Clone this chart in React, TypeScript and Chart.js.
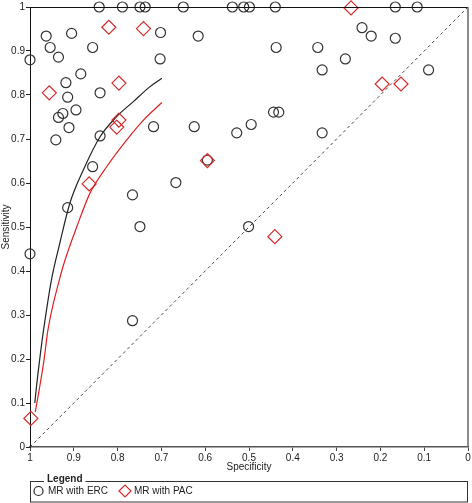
import React, { useEffect, useRef } from "react";
import { Chart, registerables } from "chart.js";

Chart.register(...registerables);

// MR with ERC: specificity / sensitivity
const ercSpec = [
  0.842, 0.789, 0.749, 0.737, 0.65, 0.538, 0.512, 0.499, 0.44, 0.166, 0.116,
  0.963, 0.954, 0.935, 1.0, 0.905, 0.857, 0.702, 0.703, 0.616, 0.884, 0.918,
  0.914, 0.84, 0.925, 0.935, 0.895, 0.911, 0.941, 0.84, 0.718, 0.625, 0.528,
  0.857, 0.667, 0.595, 0.766, 0.914, 0.749, 0.242, 0.221, 0.166, 0.438, 0.343,
  0.28, 0.333, 0.09, 0.444, 0.432, 0.495, 0.333, 0.501, 1.0, 0.766,
];
const ercSens = [
  1, 1, 1, 1, 1, 1, 1, 1, 1, 1, 1,
  0.934, 0.908, 0.886, 0.88, 0.94, 0.908, 0.942, 0.882, 0.934, 0.848, 0.828,
  0.795, 0.805, 0.758, 0.749, 0.766, 0.726, 0.698, 0.707, 0.728, 0.728, 0.714,
  0.637, 0.601, 0.652, 0.573, 0.544, 0.501, 0.953, 0.934, 0.929, 0.908, 0.908,
  0.882, 0.857, 0.857, 0.761, 0.761, 0.733, 0.714, 0.501, 0.439, 0.287,
];

// MR with PAC
const pacSpec = [0.82, 0.741, 0.956, 0.797, 0.797, 0.802, 0.865, 0.595, 0.267, 0.196, 0.153, 0.441, 0.998];
const pacSens = [0.954, 0.951, 0.805, 0.827, 0.743, 0.727, 0.598, 0.651, 0.998, 0.825, 0.825, 0.478, 0.065];

// SROC curves
const ercCurveSpec = [0.989, 0.986, 0.978, 0.969, 0.951, 0.932, 0.909, 0.878, 0.84, 0.802, 0.764, 0.726, 0.699];
const ercCurveSens = [0.1, 0.13, 0.198, 0.266, 0.38, 0.463, 0.554, 0.63, 0.705, 0.751, 0.785, 0.819, 0.838];
const pacCurveSpec = [0.988, 0.979, 0.968, 0.959, 0.933, 0.92, 0.893, 0.863, 0.825, 0.779, 0.741, 0.699];
const pacCurveSens = [0.08, 0.13, 0.198, 0.266, 0.38, 0.425, 0.501, 0.577, 0.637, 0.698, 0.743, 0.783];

// chance line
const diagSpec = [1, 0];
const diagSens = [0, 1];

const seriesLabels = ["MR with ERC", "MR with PAC"];
const xTitle = "Specificity";
const yTitle = "Sensitivity";
const legendTitle = "Legend";

const pts = (xs: number[], ys: number[]) => xs.map((x, i) => ({ x, y: ys[i] }));

const FONT = "'Liberation Sans', Arial, sans-serif";
const RED = "#d42a2a";
const DARK = "#333333";

export default function App() {
  const ref = useRef<HTMLCanvasElement | null>(null);

  useEffect(() => {
    document.body.style.margin = "0";
    const canvas = ref.current;
    if (!canvas) return;

    const framePlugin = {
      id: "frameAndLegend",
      afterDraw(chart: any) {
        const { ctx, chartArea } = chart;
        const { left, right, top, bottom } = chartArea;
        ctx.save();
        // top border
        ctx.strokeStyle = "#111";
        ctx.lineWidth = 1;
        ctx.beginPath();
        ctx.moveTo(left, top + 0.5);
        ctx.lineTo(right, top + 0.5);
        ctx.stroke();
        // right border
        ctx.strokeStyle = "#666";
        ctx.lineWidth = 1.5;
        ctx.beginPath();
        ctx.moveTo(right, top);
        ctx.lineTo(right, bottom);
        ctx.stroke();

        // legend box
        const boxTop = 481;
        const boxBottom = 501.5;
        ctx.strokeStyle = DARK;
        ctx.lineWidth = 1;
        ctx.strokeRect(left + 0.5, boxTop + 0.5, right - left - 1, boxBottom - boxTop);
        ctx.font = `bold 10px ${FONT}`;
        const tw = ctx.measureText(legendTitle).width;
        ctx.fillStyle = "#fff";
        ctx.fillRect(left + 14, boxTop - 3, tw + 6, 6);
        ctx.fillStyle = "#222";
        ctx.textBaseline = "middle";
        ctx.textAlign = "left";
        ctx.fillText(legendTitle, left + 17, boxTop - 1.5);

        const cy = 491;
        // circle symbol
        ctx.strokeStyle = "#222";
        ctx.lineWidth = 1.2;
        ctx.beginPath();
        ctx.arc(38.5, cy, 4.5, 0, Math.PI * 2);
        ctx.stroke();
        ctx.font = `10px ${FONT}`;
        ctx.fillStyle = "#222";
        ctx.fillText(seriesLabels[0], 48, cy);
        // diamond symbol
        const dx = 125;
        const r = 6;
        ctx.strokeStyle = RED;
        ctx.lineWidth = 1.2;
        ctx.beginPath();
        ctx.moveTo(dx - r, cy);
        ctx.lineTo(dx, cy - r);
        ctx.lineTo(dx + r, cy);
        ctx.lineTo(dx, cy + r);
        ctx.closePath();
        ctx.stroke();
        ctx.fillStyle = "#222";
        ctx.fillText(seriesLabels[1], 134, cy);
        ctx.restore();
      },
    };

    const chart = new Chart(canvas, {
      type: "scatter",
      data: {
        datasets: [
          {
            label: seriesLabels[1],
            data: pts(pacSpec, pacSens),
            pointStyle: "rectRot",
            pointRadius: 7,
            pointHoverRadius: 7,
            borderColor: RED,
            backgroundColor: "rgba(0,0,0,0)",
            pointBorderWidth: 1.2,
            clip: false,
          },
          {
            label: seriesLabels[0],
            data: pts(ercSpec, ercSens),
            pointStyle: "circle",
            pointRadius: 5,
            pointHoverRadius: 5,
            borderColor: DARK,
            backgroundColor: "rgba(0,0,0,0)",
            pointBorderWidth: 1.2,
            clip: false,
          },
          {
            label: "ERC curve",
            data: pts(ercCurveSpec, ercCurveSens),
            showLine: true,
            pointRadius: 0,
            borderColor: "#222",
            borderWidth: 1.2,
            cubicInterpolationMode: "monotone",
          },
          {
            label: "PAC curve",
            data: pts(pacCurveSpec, pacCurveSens),
            showLine: true,
            pointRadius: 0,
            borderColor: "#e02020",
            borderWidth: 1.2,
            cubicInterpolationMode: "monotone",
          },
          {
            label: "diagonal",
            data: pts(diagSpec, diagSens),
            showLine: true,
            pointRadius: 0,
            borderColor: "#444",
            borderWidth: 1,
            borderDash: [3, 3],
          },
        ],
      } as any,
      options: {
        animation: false,
        responsive: false,
        maintainAspectRatio: false,
        layout: { autoPadding: false, padding: { left: 0, top: 7, right: 4, bottom: 30 } },
        plugins: {
          legend: { display: false },
          tooltip: { enabled: false },
        },
        scales: {
          x: {
            type: "linear",
            reverse: true,
            min: 0,
            max: 1,
            afterFit: (s: any) => {
              s.height = 26;
              s.paddingLeft = 0;
              s.paddingRight = 0;
            },
            ticks: {
              stepSize: 0.1,
              autoSkip: false,
              maxRotation: 0,
              padding: 1,
              color: "#222",
              font: { family: FONT, size: 10 },
              callback: (v: any) => String(Number(Number(v).toFixed(1))),
            },
            grid: { drawOnChartArea: false, drawTicks: true, tickLength: 4, color: "#444" },
            border: { display: true, color: "#555", width: 1.5 },
            title: {
              display: true,
              text: xTitle,
              color: "#222",
              padding: 0,
              font: { family: FONT, size: 10 },
            },
          },
          y: {
            type: "linear",
            min: 0,
            max: 1,
            afterFit: (s: any) => {
              s.width = 30;
              s.paddingTop = 0;
              s.paddingBottom = 0;
            },
            ticks: {
              stepSize: 0.1,
              autoSkip: false,
              padding: 1,
              color: "#222",
              font: { family: FONT, size: 10 },
              callback: (v: any) => String(Number(Number(v).toFixed(1))),
            },
            grid: { drawOnChartArea: false, drawTicks: true, tickLength: 4, color: "#222" },
            border: { display: true, color: "#111", width: 1 },
            title: {
              display: true,
              text: yTitle,
              color: "#222",
              padding: 0,
              font: { family: FONT, size: 10 },
            },
          },
        },
      } as any,
      plugins: [framePlugin],
    });
    return () => chart.destroy();
  }, []);

  return (
    <div style={{ position: "absolute", left: 0, top: 0, width: 472, height: 503 }}>
      <canvas ref={ref} width={472} height={503} style={{ width: 472, height: 503, display: "block" }} />
    </div>
  );
}
